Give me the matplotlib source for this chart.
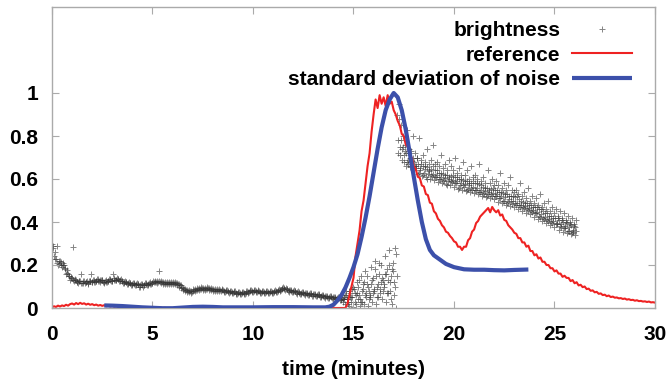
import numpy as np
import matplotlib
matplotlib.use("Agg")
import matplotlib.pyplot as plt

plt.rcParams['font.family'] = ['Liberation Sans', 'DejaVu Sans']
plt.rcParams['font.weight'] = 'bold'

# ---------------- data ----------------
sample_step = 0.1  # minutes between samples

# brightness, three passes sampled from t = 0.0 to 26.0 min
brightness_a = [
    .30, .24, .23, .20, .22, .19, .20, .16, .16, .13,
    .14, .125, .13, .115, .125, .115, .125, .12, .11, .125,
    .12, .13, .125, .135, .12, .13, .115, .13, .125, .135,
    .125, .14, .13, .135, .125, .125, .115, .12, .11, .115,
    .105, .115, .105, .11, .10, .11, .105, .115, .105, .12,
    .115, .125, .115, .125, .115, .12, .11, .12, .11, .12,
    .11, .12, .105, .11, .095, .095, .08, .085, .073, .08,
    .077, .09, .083, .095, .087, .095, .085, .097, .085, .093,
    .08, .09, .08, .088, .077, .085, .075, .083, .071, .08,
    .07, .077, .065, .075, .065, .075, .067, .08, .073, .083,
    .075, .083, .073, .08, .07, .08, .068, .078, .07, .08,
    .07, .083, .075, .09, .085, .097, .083, .087, .075, .085,
    .073, .08, .067, .075, .065, .073, .061, .07, .06, .068,
    .057, .065, .055, .063, .052, .06, .048, .057, .045, .055,
    .043, .052, .04, .049, .037,
    .03, .02, .04, .01, .03, .005, .02, .04, .01, .03,
    .02, .05, .01, .06, .03, .08, .02, .05, .09, .04,
    .11, .03, .07, .12, .02, .06, .0,
    .72, .71, .69, .68, .66, .67, .655, .66,
    .64, .65, .625, .64, .615, .63, .61, .625, .60, .615,
    .595, .61, .585, .60, .58, .595, .575, .59, .57, .585,
    .565, .58, .555, .57, .55, .565, .545, .555, .54, .55,
    .535, .55, .53, .54, .52, .535, .515, .53, .51, .52,
    .505, .52, .495, .51, .49, .50, .48, .495, .475, .485,
    .47, .48, .46, .47, .45, .465, .44, .455, .435, .445,
    .425, .44, .415, .425, .405, .415, .395, .405, .385, .395,
    .375, .39, .365, .375, .355, .37, .35, .36, .345, .355,
    .34,
]
brightness_b = [
    .29, .26, .21, .22, .20, .21, .18, .175, .15, .145,
    .13, .135, .12, .125, .115, .125, .115, .125, .125, .16,
    .13, .12, .135, .125, .13, .12, .125, .12, .135, .125,
    .16, .13, .14, .125, .135, .115, .125, .11, .12, .105,
    .115, .105, .115, .10, .11, .10, .115, .105, .115, .11,
    .125, .12, .125, .17, .125, .11, .12, .11, .12, .11,
    .12, .11, .115, .10, .105, .085, .09, .075, .083, .07,
    .087, .08, .093, .085, .097, .085, .095, .087, .095, .083,
    .09, .08, .09, .078, .087, .075, .085, .073, .081, .07,
    .08, .067, .075, .065, .075, .065, .077, .07, .083, .073,
    .085, .073, .083, .07, .08, .07, .078, .068, .08, .07,
    .08, .073, .085, .08, .095, .087, .093, .077, .085, .075,
    .083, .07, .077, .065, .075, .063, .071, .06, .07, .058,
    .067, .055, .065, .053, .062, .05, .058, .047, .055, .045,
    .053, .042, .05, .039, .047,
    .05, .06, .03, .07, .05, .09, .06, .10, .04, .08,
    .12, .07, .10, .05, .13, .09, .15, .11, .07, .14,
    .10, .16, .13, .08, .18, .12, .25,
    .78, .75, .74, .71, .72, .69, .70, .685,
    .68, .66, .67, .65, .66, .645, .655, .635, .645, .625,
    .64, .62, .63, .61, .625, .605, .62, .60, .615, .595,
    .61, .59, .60, .58, .595, .575, .59, .57, .58, .565,
    .58, .56, .575, .55, .565, .545, .56, .54, .555, .535,
    .55, .53, .54, .52, .535, .515, .53, .505, .52, .50,
    .515, .49, .505, .48, .495, .475, .49, .465, .48, .455,
    .47, .445, .46, .435, .45, .425, .44, .415, .43, .405,
    .42, .395, .41, .39, .40, .38, .395, .375, .385, .365,
    .375,
]
brightness_c = [
    .28, .23, .29, .205, .215, .20, .185, .165, .15, .14,
    .285, .13, .12, .125, .16, .115, .12, .115, .125, .12,
    .12, .125, .125, .13, .13, .12, .12, .125, .13, .125,
    .13, .13, .135, .13, .125, .12, .12, .115, .115, .11,
    .11, .11, .11, .105, .105, .105, .11, .11, .11, .115,
    .12, .12, .12, .12, .12, .115, .115, .115, .115, .115,
    .115, .115, .11, .105, .10, .09, .085, .08, .078, .075,
    .082, .085, .088, .09, .092, .09, .09, .092, .09, .088,
    .085, .085, .085, .083, .082, .08, .08, .078, .076, .075,
    .075, .072, .07, .07, .07, .07, .072, .075, .078, .078,
    .08, .078, .078, .075, .075, .075, .073, .073, .075, .075,
    .075, .078, .08, .085, .09, .092, .088, .082, .08, .08,
    .078, .075, .072, .07, .07, .068, .066, .065, .065, .063,
    .062, .06, .06, .058, .057, .055, .053, .052, .05, .05,
    .048, .047, .045, .044, .042,
    .06, .04, .08, .05, .10, .07, .12, .06, .15, .09,
    .17, .11, .08, .19, .14, .22, .10, .16, .20, .13,
    .24, .18, .27, .15, .21, .28, .90,
    .95, .85, .80, .76, .83, .74, .73, .80,
    .72, .70, .79, .69, .71, .68, .74, .67, .69, .76,
    .67, .68, .66, .71, .65, .67, .64, .69, .66, .64,
    .70, .63, .65, .62, .68, .62, .64, .60, .66, .61,
    .62, .60, .67, .59, .61, .58, .64, .58, .60, .57,
    .59, .57, .63, .56, .58, .55, .57, .61, .55, .54,
    .55, .53, .58, .52, .54, .51, .56, .50, .52, .49,
    .51, .48, .53, .47, .49, .46, .50, .45, .47, .44,
    .46, .43, .45, .42, .44, .41, .43, .40, .42, .39,
    .41,
]
# extra brightness pass after the flare starts (t = 14.5 to 26.0 min)
brightness_d_start = 14.5
brightness_d = [
    .04, .08, .02, .05, .09, .03, .07, .13, .03, .11,
    .06, .15, .04, .11, .07, .18, .05, .21, .12, .08,
    .16, .07, .20, .04, .17, .10, .15,
    .88, .78, .75, .73, .68, .72, .66, .70,
    .66, .70, .63, .67, .62, .66, .60, .64, .62, .66,
    .61, .64, .60, .63, .59, .62, .57, .61, .59, .62,
    .58, .61, .56, .60, .57, .59, .55, .58, .56, .59,
    .55, .58, .54, .57, .53, .56, .52, .55, .53, .56,
    .52, .55, .51, .54, .50, .53, .49, .52, .50, .52,
    .49, .52, .48, .50, .47, .49, .46, .48, .45, .47,
    .44, .47, .43, .46, .42, .44, .41, .43, .40, .42,
    .39, .42, .38, .41, .37, .40, .36, .39, .35, .38,
    .36,
]
pass_offsets = [0.0, 0.033, 0.067, 0.05]

# reference, sampled from t = 0.0 to 30.0 min
reference = [
    .004, .008, .005, .011, .007, .012, .009, .015, .011, .018,
    .021, .016, .023, .018, .024, .019, .022, .016, .020, .015,
    .018, .013, .016, .011, .014, .010, .013, .008, .011, .007,
    .010, .006, .009, .005, .008, .004, .006, .003, .005, .002,
    .004, .002, .003, .001, .003, .002, .003, .001, .004, .002,
    .005, .002, .003, .001, .002, .000, .001, .000, .000, .000,
    0, 0, 0, 0, 0, 0, 0, 0, 0, 0,
    0, 0, 0, 0, 0, 0, 0, 0, 0, 0,
    0, 0, 0, 0, 0, 0, 0, 0, 0, 0,
    0, 0, 0, 0, 0, 0, 0, 0, 0, 0,
    0, 0, 0, 0, 0, 0, 0, 0, 0, 0,
    0, 0, 0, 0, 0, 0, 0, 0, 0, 0,
    0, 0, 0, 0, 0, 0, 0, 0, 0, 0,
    0, 0, 0, 0, 0, 0, 0, 0, 0, 0,
    0, 0, 0, 0, 0, 0, 0, .02, .06, .10,
    .14, .24, .30, .36, .45, .50, .58, .66, .72, .82,
    .90, .97, .93, .99, .95, .98, .94, .99, .95, .96,
    .92, .90, .87, .85, .81, .80, .76, .75, .71, .70,
    .66, .645, .61, .605, .57, .565, .53, .525, .49, .485,
    .45, .44, .415, .405, .385, .375, .355, .35, .335, .325,
    .31, .305, .285, .285, .27, .285, .285, .315, .325, .355,
    .365, .395, .405, .425, .435, .445, .455, .465, .445, .47,
    .455, .445, .455, .43, .435, .41, .405, .385, .375, .365,
    .35, .345, .325, .325, .305, .305, .285, .29, .265, .265,
    .245, .25, .23, .235, .215, .215, .2, .2, .185, .185,
    .17, .175, .16, .16, .145, .15, .14, .14, .125, .13,
    .115, .12, .105, .108, .097, .1, .088, .09, .08, .082,
    .073, .075, .066, .068, .06, .062, .055, .058, .051, .053,
    .048, .049, .045, .046, .042, .044, .039, .041, .037, .038,
    .034, .036, .032, .033, .030, .031, .028, .030, .026, .027,
    .025,
]

# standard deviation of noise
noise_time = [2.6, 3.0, 3.5, 4.0, 4.5, 5.0, 5.5, 6.0, 6.5, 7.0, 7.5, 8.0, 8.5,
              9.0, 10.0, 11.0, 12.0, 13.0, 13.6, 13.8, 14.0, 14.2, 14.4, 14.6,
              14.8, 15.0, 15.2, 15.4, 15.6, 15.8, 16.0, 16.2, 16.4, 16.6, 16.8,
              17.0, 17.2, 17.4, 17.6, 17.8, 18.0, 18.2, 18.4, 18.6, 18.8, 19.0,
              19.3, 19.6, 20.0, 20.5, 21.0, 21.5, 22.0, 22.5, 23.0, 23.7]
noise_std = [0.012, 0.011, 0.009, 0.006, 0.003, 0.001, -0.001, -0.001, 0.002,
             0.005, 0.006, 0.005, 0.003, 0.003, 0.003, 0.004, 0.004, 0.003,
             0.003, 0.006, 0.015, 0.035, 0.06, 0.095, 0.14, 0.19, 0.25, 0.33,
             0.42, 0.52, 0.63, 0.74, 0.84, 0.92, 0.97, 1.0, 0.98, 0.92, 0.83,
             0.72, 0.61, 0.50, 0.40, 0.32, 0.27, 0.245, 0.225, 0.205, 0.19,
             0.18, 0.178, 0.178, 0.176, 0.175, 0.177, 0.179]

x_ticks = [0, 5, 10, 15, 20, 25, 30]
y_ticks = [0, 0.2, 0.4, 0.6, 0.8, 1.0]
y_tick_labels = ['0', '0.2', '0.4', '0.6', '0.8', '1']

# ---------------- plot ----------------
FS = 15
fig = plt.figure(figsize=(6.71, 3.82), dpi=100)
ax = fig.add_axes([52 / 671, 1 - 308 / 382, 603 / 671, 301 / 382])

passes = [(0.0, brightness_a), (0.0, brightness_b), (0.0, brightness_c),
          (brightness_d_start, brightness_d)]
first = True
for (start, vals), off in zip(passes, pass_offsets):
    t = start + np.arange(len(vals)) * sample_step + off
    ax.plot(t, vals, linestyle='none', marker='+', markersize=4.2,
            markeredgewidth=0.7, color='#333333', alpha=0.6, zorder=1,
            label='brightness' if first else None)
    first = False

t_ref = np.arange(len(reference)) * sample_step
ax.plot(t_ref, reference, color='#ee2222', linewidth=1.5, zorder=2,
        label='reference')
ax.plot(noise_time, noise_std, color='#3c50aa', linewidth=3.0, zorder=3,
        solid_capstyle='butt', label='standard deviation of noise')

ax.set_xlim(0, 30)
ax.set_ylim(0, 1.4)
ax.set_xticks(x_ticks)
ax.set_yticks(y_ticks)
ax.set_yticklabels(y_tick_labels)

for s in ax.spines.values():
    s.set_color('#aaaaaa')
    s.set_linewidth(1.0)
ax.tick_params(axis='both', direction='in', length=5, width=0.8,
               color='#aaaaaa', labelsize=FS, top=True, right=True,
               labelcolor='black')
ax.tick_params(axis='x', pad=12)
ax.tick_params(axis='y', pad=10)
for lab in ax.get_xticklabels() + ax.get_yticklabels():
    lab.set_fontweight('bold')

ax.set_xlabel('time (minutes)', fontsize=FS, fontweight='bold', labelpad=12)

leg = ax.legend(loc='upper right', bbox_to_anchor=(0.962, 0.952),
                frameon=False, markerfirst=False, fontsize=FS,
                handlelength=2.9, handletextpad=0.55, labelspacing=0.25,
                borderpad=0, borderaxespad=0, numpoints=1)
for txt in leg.get_texts():
    txt.set_fontweight('bold')

fig.savefig('out.png', dpi=100)
